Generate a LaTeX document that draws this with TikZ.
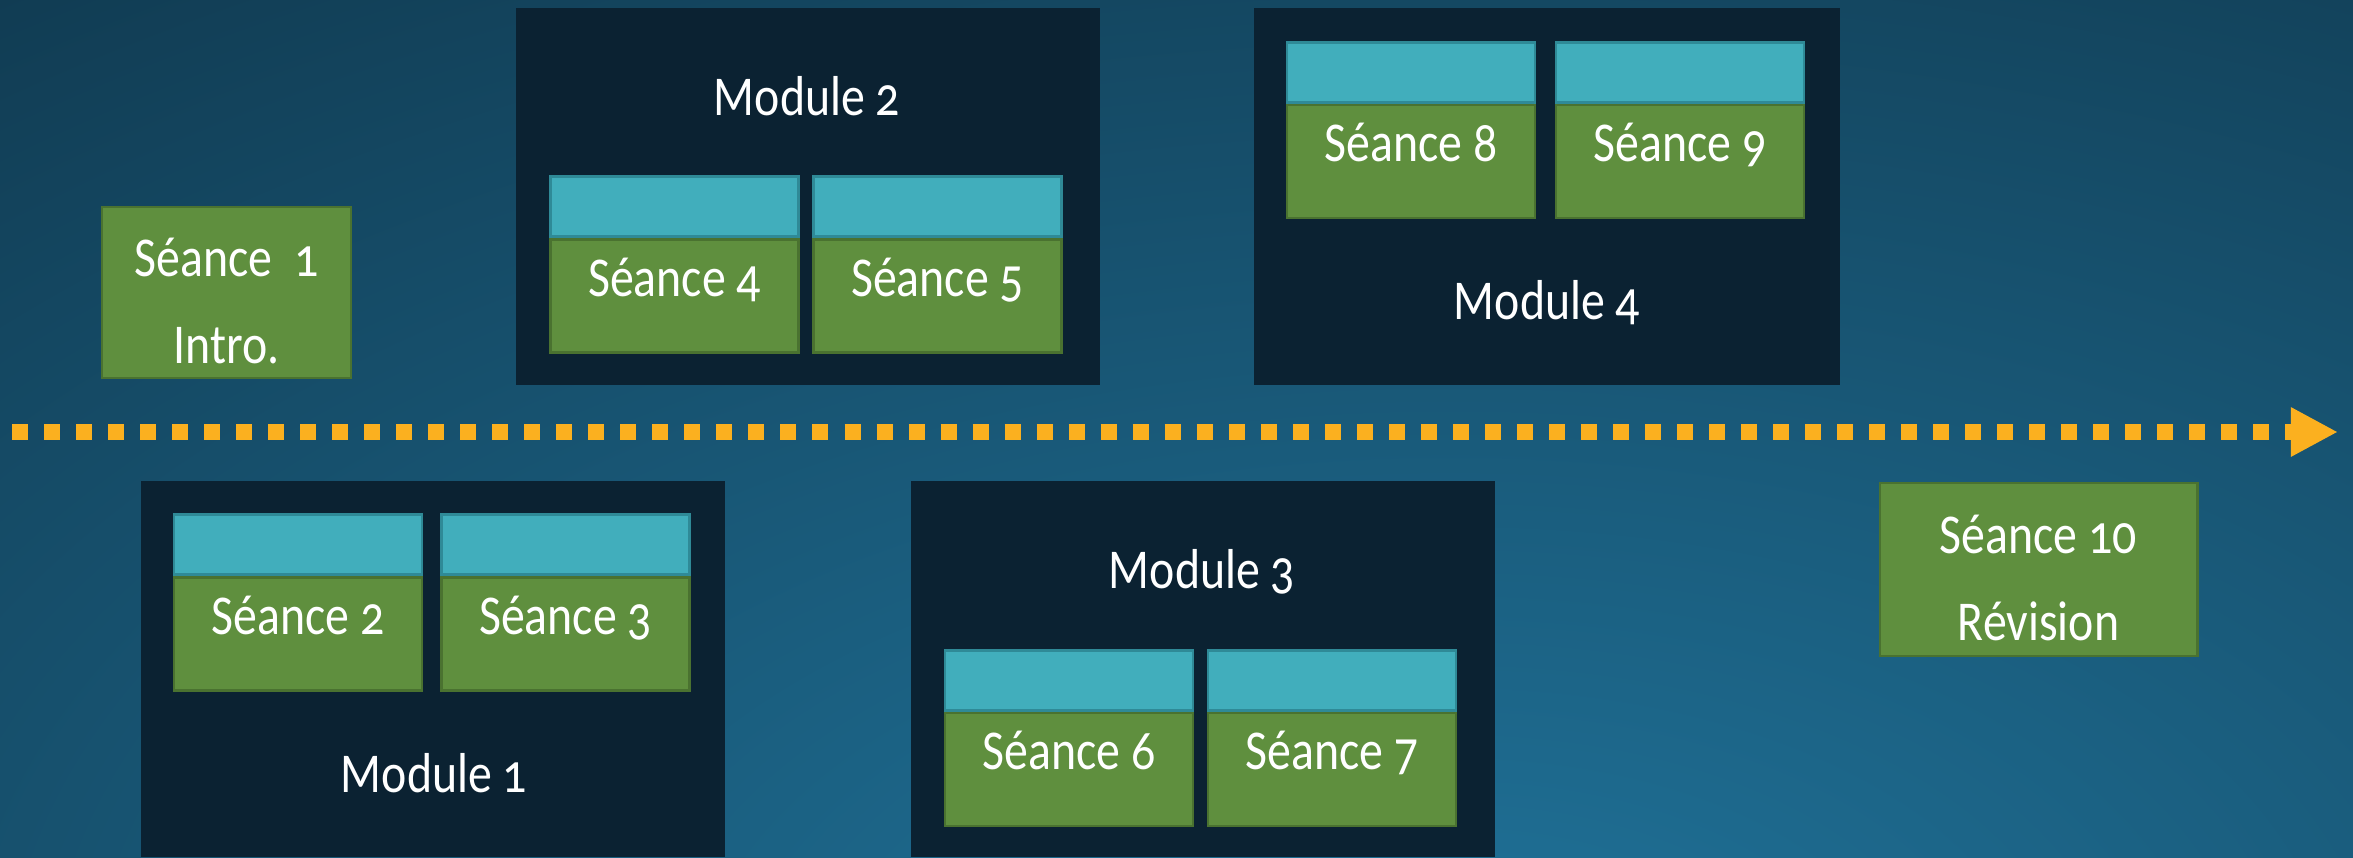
\documentclass[tikz,border=0pt]{standalone}
\usepackage{fontspec}
\setmainfont[Numbers=OldStyle,FakeStretch=0.85]{Carlito}
\usetikzlibrary{positioning,arrows.meta}

\definecolor{fonddark}{HTML}{0E3246}
\definecolor{fondlight}{HTML}{20739A}
\definecolor{modfond}{HTML}{0B2232}
\definecolor{vert}{HTML}{5F8F3E}
\definecolor{vertbord}{HTML}{4A7230}
\definecolor{cyan}{HTML}{41AEBC}
\definecolor{cyanbord}{HTML}{2F8A97}
\definecolor{orange}{HTML}{FBB01F}

\begin{document}
\begin{tikzpicture}[x=0.01cm, y=-0.01cm,
		every node/.style={font=\fontsize{16}{17}\selectfont, text=white},
		module/.style={fill=modfond, draw=none, minimum width=5.84cm, minimum height=3.76cm, inner sep=0pt},
		modtxt/.style={text height=0.33cm, text depth=0cm, inner sep=0pt},
		seance/.style={fill=vert, draw=vertbord, line width=0.8pt, minimum width=2.48cm, minimum height=1.13cm,
			text height=0.3cm, text depth=0.3cm, inner sep=0pt},
		entete/.style={fill=cyan, draw=cyanbord, line width=0.8pt, minimum width=2.48cm, minimum height=0.6cm, inner sep=0pt},
		seul/.style={fill=vert, draw=vertbord, line width=0.8pt, align=center, text height=1.42cm, text depth=0cm, inner sep=0pt},
		frise/.style={draw=orange, line width=0.16cm, dash pattern=on 0.16cm off 0.16cm,
			-{Triangle[length=0.47cm,width=0.46cm,fill=orange]}}]
		\useasboundingbox (0,0) rectangle (2353,857);
		\begin{scope}
			\clip (0,0) rectangle (2353,857);
			\fill[fonddark] (0,0) rectangle (2353,857);
			\shade[inner color=fondlight, outer color=fonddark] (1450,1000) ellipse (28cm and 15cm);
		\end{scope}

		\node[module] (m2) at (808,196.5) {};
		\node[module, minimum width=5.86cm] (m4) at (1547,196.5) {};
		\node[module] (m1) at (433,669) {};
		\node[module] (m3) at (1203,669) {};

		\node[modtxt] (m1t) at (434,776) {Module 1};
		\node[modtxt] (m2t) at (807,99) {Module 2};
		\node[modtxt] (m3t) at (1202,572) {Module 3};
		\node[modtxt] (m4t) at (1547,303) {Module 4};

		\node[seul, minimum width=2.49cm, minimum height=1.71cm] (s1) at (226.5,292.5) {Séance~~1\\[0.27cm]Intro.};
		\node[seance] (s2) at (298,634) {Séance 2};
		\node[seance] (s3) at (565.5,634) {Séance 3};
		\node[seance] (s4) at (674.5,296) {Séance 4};
		\node[seance] (s5) at (937.5,296) {Séance 5};
		\node[seance] (s6) at (1069,769.5) {Séance 6};
		\node[seance] (s7) at (1332,769.5) {Séance 7};
		\node[seance] (s8) at (1411,161.5) {Séance 8};
		\node[seance] (s9) at (1680,161.5) {Séance 9};
		\node[seul, minimum width=3.17cm, minimum height=1.73cm] (s10) at (2038.5,569.5) {Séance 10\\[0.27cm]Révision};

		\foreach \s in {s2,s3,s4,s5,s6,s7,s8,s9}
			\node[entete, above=0pt of \s] (\s h) {};

		\coordinate (debut) at (12,432);
		\coordinate (fin) at (2338,432);
		\draw[frise] (debut) -- (fin);
\end{tikzpicture}
\end{document}
